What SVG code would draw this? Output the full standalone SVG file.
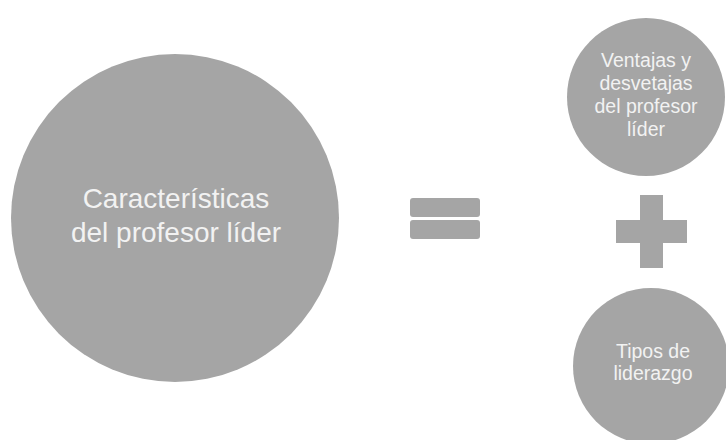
<svg xmlns="http://www.w3.org/2000/svg" width="726" height="440" viewBox="0 0 726 440">
  <style>
    .disc { fill: #a5a5a5; }
    .op { fill: #a5a5a5; }
    .lbl { fill: #f2f2f2; font-family: "Liberation Sans", "Open Sans", sans-serif; text-anchor: middle; }
    .big { font-size: 28px; }
    .small { font-size: 19.5px; }
  </style>
  <rect width="726" height="440" fill="#ffffff"/>

  <g id="caracteristicas">
    <circle class="disc" cx="175" cy="218" r="164"/>
    <text class="lbl big" x="176" y="208">Características</text>
    <text class="lbl big" x="176" y="242">del profesor líder</text>
  </g>

  <g id="igual">
    <rect class="op" x="410" y="198" width="70" height="19" rx="3"/>
    <rect class="op" x="410" y="220" width="70" height="19" rx="3"/>
  </g>

  <g id="ventajas">
    <circle class="disc" cx="646" cy="97" r="79"/>
    <text class="lbl small" x="646" y="67">Ventajas y</text>
    <text class="lbl small" x="646" y="90">desvetajas</text>
    <text class="lbl small" x="646" y="113">del profesor</text>
    <text class="lbl small" x="646" y="136">líder</text>
  </g>

  <g id="mas">
    <rect class="op" x="640" y="195" width="23" height="73"/>
    <rect class="op" x="616" y="220" width="71" height="23"/>
  </g>

  <g id="tipos">
    <circle class="disc" cx="651" cy="366" r="78"/>
    <text class="lbl small" x="653" y="358">Tipos de</text>
    <text class="lbl small" x="653" y="380">liderazgo</text>
  </g>

  <g id="connectors"></g>
</svg>
